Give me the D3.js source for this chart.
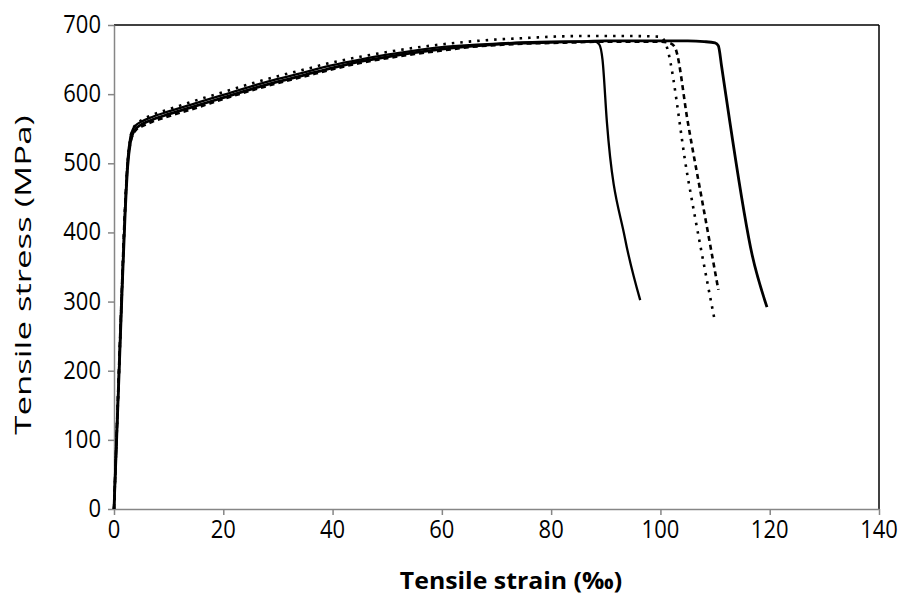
<!DOCTYPE html>
<html><head><meta charset="utf-8">
<script src="https://cdn.jsdelivr.net/npm/d3@7/dist/d3.min.js"></script>
<style>body{margin:0;background:#fff}svg{display:block}</style>
</head><body><svg id="c" width="902" height="595"></svg>
<script>
// ---- data (strain ‰, stress MPa) ----
const xTicks = [0,20,40,60,80,100,120,140];
const yTicks = [0,100,200,300,400,500,600,700];
const xLabel = "Tensile strain (‰)";
const yLabel = "Tensile stress (MPa)";

const s1Strain = [0,0.5,1,1.5,2,2.5,3,3.5,4,5,7,10,15,20,25,30,35,40,45,50,55,60,65,70,75,80,85,88,88.8,89.4,90.2,93.5,96.3];
const s1Stress = [0,110,220,330,430,505,538,550,555,560,567,575,587,599,611,622,632,642,650,657,663,668,671,673,675,676,676,676,672,650,560,392,302];

const s2Strain = [0,0.5,1,1.5,2,2.5,3,3.5,4,5,7,10,15,20,25,30,35,40,45,50,55,60,65,70,75,80,85,90,95,100,105,108,110,110.6,111.2,112.7,116.8,119.5];
const s2Stress = [0,105,212,320,420,495,530,544,550,556,563,571,583,595,607,618,628,638,647,654,660,665,669,672,674,675,676,677,677,677,677,676,674,670,640,560,367,292];

const s3Strain = [0,0.5,1,1.5,2,2.5,3,3.5,4,5,7,10,15,20,25,30,35,40,45,50,55,60,65,70,75,80,85,90,95,100,100.8,105,110];
const s3Stress = [0,108,216,325,428,502,537,550,556,562,570,578,591,603,615,626,636,646,654,661,667,672,676,679,681,683,684,684,684,683,676,480,270];

const s4Strain = [0,0.5,1,1.5,2,2.5,3,3.5,4,5,7,10,15,20,25,30,35,40,45,50,55,60,65,70,75,80,85,90,95,100,102,102.8,105,108,110.6];
const s4Stress = [0,112,222,332,432,500,530,542,548,553,560,568,580,593,605,616,626,636,645,652,658,663,668,671,673,674,675,676,676,676,673,665,560,430,317];

// ---- layout ----
const L = 114, R = 879, T = 25, B = 509;
const svg = d3.select("#c");
const x = d3.scaleLinear().domain([0,140]).range([L,R]);
const y = d3.scaleLinear().domain([0,700]).range([B,T]);

// frame top/right
svg.append("line").attr("x1",L).attr("x2",R).attr("y1",T).attr("y2",T).attr("stroke","#000").attr("stroke-width",1.5);
svg.append("line").attr("x1",R).attr("x2",R).attr("y1",T).attr("y2",B).attr("stroke","#000").attr("stroke-width",1.5);

const gx = svg.append("g").attr("transform",`translate(0,${B})`)
  .call(d3.axisBottom(x).tickValues(xTicks).tickSize(6).tickSizeOuter(0).tickFormat(""));
const gy = svg.append("g").attr("transform",`translate(${L},0)`)
  .call(d3.axisLeft(y).tickValues(yTicks).tickSize(6).tickSizeOuter(0).tickFormat(""));
[gx,gy].forEach(g=>{
  g.select(".domain").attr("stroke","#868686").attr("stroke-width",1.5);
  g.selectAll(".tick line").attr("stroke","#868686").attr("stroke-width",1.5);
});

const fam = "'Open Sans', 'Liberation Sans', sans-serif";
// tick labels
xTicks.forEach(v=>{
  svg.append("text").attr("transform",`translate(${x(v)},${B+29}) scale(1,1.15)`)
    .attr("text-anchor","middle").attr("font-family",fam).attr("font-size",22).attr("fill","#000").text(v);
});
yTicks.forEach(v=>{
  svg.append("text").attr("transform",`translate(${L-13},${y(v)+8}) scale(1,1.15)`)
    .attr("text-anchor","end").attr("font-family",fam).attr("font-size",22).attr("fill","#000").text(v);
});
svg.append("text").attr("transform",`translate(${511},589) scale(1.08,1)`)
  .attr("text-anchor","middle").attr("font-family",fam).attr("font-weight","bold").attr("font-size",23).text(xLabel);
svg.append("text").attr("transform",`translate(31,${275}) rotate(-90) scale(1.58,1)`)
  .attr("text-anchor","middle").attr("font-family",fam).attr("font-size",22).text(yLabel);

// curves
const line = d3.line().x(d=>x(d[0])).y(d=>y(d[1])).curve(d3.curveMonotoneX);
const series = [
  {sx:s4Strain, sy:s4Stress, w:2.6, dash:"5,4"},
  {sx:s3Strain, sy:s3Stress, w:2.6, dash:"2.5,6"},
  {sx:s1Strain, sy:s1Stress, w:2.3, dash:null},
  {sx:s2Strain, sy:s2Stress, w:2.8, dash:null}
];
series.forEach(s=>{
  const pts = s.sx.map((v,i)=>[v,s.sy[i]]);
  const p = svg.append("path").datum(pts).attr("d",line).attr("fill","none")
    .attr("stroke","#000").attr("stroke-width",s.w).attr("stroke-linejoin","round");
  if(s.dash) p.attr("stroke-dasharray",s.dash);
});
</script></body></html>
